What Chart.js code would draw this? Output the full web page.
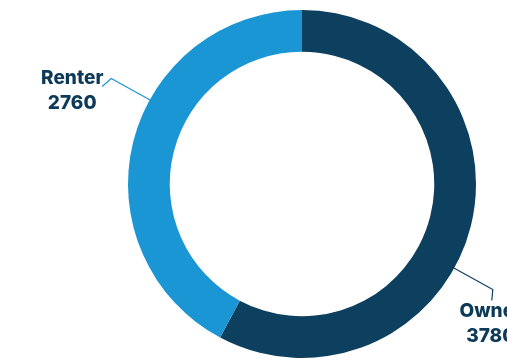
<!DOCTYPE html>
<html>
<head>
<meta charset="utf-8">
<script src="https://cdn.jsdelivr.net/npm/chart.js@4.4.0/dist/chart.umd.min.js"></script>
<style>
  html, body { margin: 0; padding: 0; background: #ffffff; }
  #wrap { width: 507px; height: 363px; position: relative; }
</style>
</head>
<body>
<div id="wrap"><canvas id="chartTenure"></canvas></div>
<script>
const categories = ['Owner', 'Renter'];
const households = [3780, 2760];
const sliceColors = ['#0d3f5f', '#1b96d4'];

// draws the callout lines and the two-line labels next to each slice
const calloutLabels = {
  id: 'calloutLabels',
  afterDatasetsDraw(chart) {
    const ctx = chart.ctx;
    const meta = chart.getDatasetMeta(0);
    ctx.save();
    meta.data.forEach((arc, i) => {
      const ang = (arc.startAngle + arc.endAngle) / 2 + 0.26;
      const r = arc.outerRadius;
      const x0 = arc.x + Math.cos(ang) * (r - 2);
      const y0 = arc.y + Math.sin(ang) * (r - 2);
      const x1 = arc.x + Math.cos(ang) * (r + 44);
      const y1 = arc.y + Math.sin(ang) * (r + 44);
      const left = Math.cos(ang) < 0;
      const x2 = left ? x1 - 9 : x1 - 1;
      const y2 = left ? y1 + 8 : y1 + 11;

      ctx.strokeStyle = sliceColors[i];
      ctx.lineWidth = 1.2;
      ctx.beginPath();
      ctx.moveTo(x0, y0);
      ctx.lineTo(x1, y1);
      ctx.lineTo(x2, y2);
      ctx.stroke();

      ctx.fillStyle = '#0d3a58';
      ctx.font = '800 19px Inter, "Open Sans", sans-serif';
      ctx.textAlign = 'center';
      ctx.textBaseline = 'alphabetic';
      let tx, ty;
      if (left) { tx = x2 - 30; ty = y2 - 3; }
      else { tx = x2 - 1; ty = y2 + 17; }
      ctx.fillText(categories[i], tx, ty);
      ctx.fillText(String(households[i]), tx, ty + 25);
    });
    ctx.restore();
  }
};

new Chart(document.getElementById('chartTenure').getContext('2d'), {
  type: 'doughnut',
  data: {
    labels: categories,
    datasets: [{
      data: households,
      backgroundColor: sliceColors,
      borderWidth: 0
    }]
  },
  options: {
    responsive: true,
    maintainAspectRatio: false,
    animation: false,
    cutout: '76%',
    layout: {
      padding: { left: 128, right: 31, top: 10, bottom: 5 }
    },
    plugins: {
      legend: { display: false },
      tooltip: { enabled: false }
    }
  },
  plugins: [calloutLabels]
});
</script>
</body>
</html>
